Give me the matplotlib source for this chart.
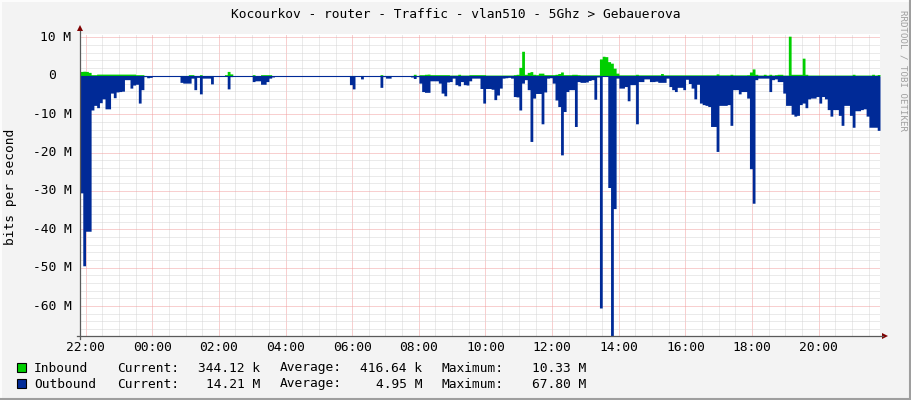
import numpy as np
import matplotlib
matplotlib.use("Agg")
import matplotlib.pyplot as plt
from matplotlib import transforms
from matplotlib.patches import Rectangle, Polygon
from matplotlib.lines import Line2D

# ---------------- data ----------------
title = "Kocourkov - router - Traffic - vlan510 - 5Ghz > Gebauerova"
y_axis_label = "bits per second"
watermark = "RRDTOOL / TOBI OETIKER"

x_tick_hours = [0, 2, 4, 6, 8, 10, 12, 14, 16, 18, 20, 22]   # hours after 22:00
x_tick_labels = ["22:00", "00:00", "02:00", "04:00", "06:00", "08:00",
                 "10:00", "12:00", "14:00", "16:00", "18:00", "20:00"]
y_tick_values = [10, 0, -10, -20, -30, -40, -50, -60]
y_tick_labels = ["10 M", "0", "-10 M", "-20 M", "-30 M", "-40 M", "-50 M", "-60 M"]

start_hour = -0.165          # first sample (21:50), hours relative to 22:00
step_hours = 5.0 / 60.0      # 5-minute samples

# Inbound traffic, Mbit/s, one row per hour (12 five-minute samples)
inbound = [
    1.15, 1.2, 1.15, 0.9, 0.3, 0.3, 0.45, 0.45, 0.45, 0.45, 0.45, 0.45,
    0.45, 0.45, 0.45, 0.45, 0.45, 0.45, 0.45, 0.45, 0.3, 0.3, 0.3, 0.1,
    0.05, 0.05, 0.05, 0.05, 0.05, 0.05, 0.05, 0.05, 0.05, 0.05, 0.05, 0.05,
    0.1, 0.1, 0.1, 0.3, 0.3, 0.1, 0.1, 0.3, 0.1, 0.1, 0.1, 0.1,
    0.05, 0.05, 0.05, 0.05, 0.3, 1.15, 0.5, 0.05, 0.05, 0.05, 0.05, 0.05,
    0.05, 0.05, 0.3, 0.1, 0.1, 0.3, 0.3, 0.3, 0.3, 0.05, 0.05, 0.05,
    0.05, 0.05, 0.05, 0.05, 0.05, 0.05, 0.05, 0.05, 0.05, 0.05, 0.05, 0.05,
    0.05, 0.05, 0.05, 0.05, 0.05, 0.05, 0.05, 0.05, 0.05, 0.05, 0.05, 0.05,
    0.05, 0.1, 0.1, 0.05, 0.05, 0.1, 0.05, 0.05, 0.05, 0.05, 0.05, 0.05,
    0.3, 0.1, 0.1, 0.1, 0.05, 0.05, 0.05, 0.05, 0.05, 0.05, 0.05, 0.1,
    0.4, 0.1, 0.3, 0.3, 0.4, 0.45, 0.3, 0.3, 0.3, 0.3, 0.3, 0.3,
    0.3, 0.2, 0.2, 0.2, 0.4, 0.2, 0.2, 0.2, 0.3, 0.3, 0.3, 0.3,
    0.3, 0.3, 0.2, 0.2, 0.2, 0.2, 0.2, 0.2, 0.2, 0.2, 0.2, 0.2,
    0.3, 0.4, 2.2, 6.4, 0.4, 0.9, 1.1, 0.4, 0.3, 0.7, 0.7, 0.3,
    0.3, 0.3, 0.3, 0.4, 0.6, 1.0, 0.3, 0.3, 0.3, 0.4, 0.4, 0.3,
    0.25, 0.25, 0.25, 0.25, 0.25, 0.25, 0.25, 4.4, 5.1, 5.0, 3.7, 3.3,
    2.0, 0.7, 0.25, 0.25, 0.25, 0.25, 0.25, 0.25, 0.4, 0.25, 0.25, 0.25,
    0.25, 0.25, 0.25, 0.25, 0.25, 0.6, 0.25, 0.25, 0.25, 0.25, 0.25, 0.25,
    0.25, 0.25, 0.25, 0.25, 0.25, 0.25, 0.25, 0.25, 0.25, 0.25, 0.25, 0.25,
    0.25, 0.5, 0.25, 0.25, 0.25, 0.25, 0.4, 0.25, 0.25, 0.25, 0.25, 0.25,
    0.3, 1.0, 1.8, 0.4, 0.2, 0.2, 0.4, 0.2, 0.4, 0.2, 0.3, 0.4,
    0.4, 0.2, 0.2, 10.33, 0.4, 0.4, 0.4, 0.4, 4.6, 0.4, 0.2, 0.2,
    0.2, 0.2, 0.2, 0.2, 0.2, 0.2, 0.2, 0.2, 0.2, 0.2, 0.2, 0.2,
    0.2, 0.2, 0.4, 0.2, 0.2, 0.2, 0.2, 0.2, 0.2, 0.4, 0.2, 0.344,
]

# Outbound traffic, Mbit/s (drawn below zero)
outbound = [
    30.5, 49.5, 40.5, 40.5, 8.9, 7.7, 8.3, 7.0, 6.0, 8.6, 8.6, 4.5,
    5.7, 4.2, 4.1, 4.0, 1.0, 1.0, 3.2, 2.4, 2.2, 7.1, 3.6, 0.2,
    0.5, 0.4, 0, 0, 0, 0, 0, 0, 0, 0, 0, 0,
    1.7, 1.9, 1.9, 1.9, 0.6, 3.6, 0.4, 4.7, 0.6, 0.6, 0.6, 2.1,
    0, 0, 0, 0, 0, 3.4, 0.2, 0, 0, 0, 0, 0,
    0, 0, 1.5, 1.3, 1.3, 2.2, 2.2, 1.5, 0.6, 0.3, 0, 0,
    0, 0, 0, 0, 0, 0, 0, 0, 0, 0, 0, 0,
    0, 0, 0, 0, 0, 0, 0, 0, 0, 0, 0, 0,
    0, 2.3, 3.4, 0, 0, 0.8, 0, 0, 0, 0, 0, 0,
    3.0, 0.2, 0.6, 0.6, 0, 0, 0, 0, 0, 0, 0, 0.3,
    0.7, 0.2, 1.9, 4.1, 4.3, 4.3, 1.3, 1.3, 1.3, 1.9, 4.5, 5.2,
    1.6, 1.5, 0.6, 2.3, 2.6, 1.5, 2.3, 2.4, 1.3, 0.6, 0.6, 0.6,
    3.3, 7.1, 3.3, 3.3, 3.5, 6.2, 5.0, 3.2, 0.6, 0.5, 0.4, 0.6,
    5.4, 5.5, 8.9, 1.9, 1.0, 3.6, 17.1, 5.8, 4.6, 4.6, 12.5, 4.2,
    0.6, 0.5, 1.9, 6.3, 8.0, 20.6, 9.3, 4.1, 3.6, 3.6, 13.2, 1.5,
    1.7, 1.7, 1.6, 1.2, 1.0, 6.1, 0.3, 60.5, 0, 0, 29.1, 67.8,
    34.6, 0.6, 3.2, 3.2, 2.8, 6.5, 2.3, 2.3, 12.5, 1.5, 1.5, 0.8,
    0.8, 1.5, 1.5, 1.4, 1.7, 1.7, 1.7, 0.6, 2.8, 3.6, 4.1, 3.0,
    3.0, 3.6, 0.9, 2.0, 3.2, 6.0, 2.2, 7.1, 7.5, 7.7, 8.0, 13.2,
    13.2, 19.7, 7.7, 7.7, 7.7, 7.5, 12.9, 3.6, 3.6, 4.7, 4.1, 4.1,
    5.8, 24.2, 33.2, 1.0, 0.6, 0.6, 0.6, 0.6, 4.1, 1.0, 0.8, 1.5,
    1.5, 4.5, 7.7, 7.7, 10.0, 10.5, 10.3, 7.5, 7.1, 8.3, 6.0, 5.8,
    5.8, 5.4, 7.1, 5.4, 6.0, 8.8, 10.5, 8.8, 8.8, 10.3, 12.9, 7.7,
    7.7, 10.3, 13.4, 9.1, 9.1, 8.8, 8.6, 10.5, 13.4, 13.4, 13.4, 14.21,
]

legend_names = ["Inbound", "Outbound"]
legend_current = ["344.12 k", "14.21 M"]
legend_average = ["416.64 k", "4.95 M"]
legend_maximum = ["10.33 M", "67.80 M"]

# ---------------- style ----------------
W, H = 911, 400
DPI = 100
BG = "#F3F3F3"
IN_COLOR = "#00CF00"
OUT_COLOR = "#002A97"
MINOR_GRID = "#D6D6D6"
MAJOR_GRID = "#F2A0A0"
FONT = "DejaVu Sans Mono"
FS = 9.3

plt.rcParams["font.family"] = [FONT, "DejaVu Sans"]

fig = plt.figure(figsize=(W / DPI, H / DPI), dpi=DPI, facecolor=BG)

# plot area in pixels
PL, PR, PT, PB = 80, 880, 34, 336
ax = fig.add_axes([PL / W, 1 - PB / H, (PR - PL) / W, (PB - PT) / H])
ax.set_facecolor("white")

n = len(outbound)
t_edges = start_hour + np.arange(n + 1) * step_hours
inb = np.append(np.array(inbound), inbound[-1])
outb = -np.append(np.array(outbound), outbound[-1])

ax.set_xlim(start_hour, start_hour + 24)
ax.set_ylim(-67.8, 10.9)

# grid
for hx in np.arange(0, 24, 0.5):
    major = (hx % 2 == 0)
    ax.axvline(hx, color=MAJOR_GRID if major else MINOR_GRID, lw=0.72,
               ls=(0, (1, 1)), zorder=1)
for yv in np.arange(-66, 11, 2):
    major = (yv % 10 == 0)
    ax.axhline(yv, color=MAJOR_GRID if major else MINOR_GRID, lw=0.72,
               ls=(0, (1, 1)), zorder=1)

ax.fill_between(t_edges, 0, outb, step="post", color=OUT_COLOR, lw=0, zorder=2)
ax.fill_between(t_edges, 0, inb, step="post", color=IN_COLOR, lw=0, zorder=2)
ax.axhline(0, color=OUT_COLOR, lw=0.8, zorder=3)

ax.set_xticks([])
ax.set_yticks([])
for s in ax.spines.values():
    s.set_visible(False)

# x tick labels
for h, lab in zip(x_tick_hours, x_tick_labels):
    ax.text(h, -67.8, lab, transform=ax.transData, ha="center", va="top",
            fontsize=FS, color="black",
            transform_rotates_text=False).set_transform(
        transforms.offset_copy(ax.transData, fig=fig, x=0, y=-5 * 72 / DPI, units="points"))

# y tick labels (right-aligned, "0" sits before the unit column)
for v, lab in zip(y_tick_values, y_tick_labels):
    xoff = -8.5 if lab.endswith("M") else -24.5
    tr = transforms.offset_copy(ax.get_yaxis_transform(), fig=fig,
                                x=xoff * 72 / DPI, y=0, units="points")
    ax.text(0, v, lab, transform=tr, ha="right", va="center", fontsize=FS,
            color="black")

# overlay for decorations in pixel coordinates
ov = fig.add_axes([0, 0, 1, 1], facecolor="none")
ov.set_xlim(0, W)
ov.set_ylim(H, 0)
ov.axis("off")

# frame
ov.add_line(Line2D([0.5, W - 0.5], [0.5, 0.5], color="#FCFCFC", lw=1.5))
ov.add_line(Line2D([0.5, 0.5], [0.5, H - 0.5], color="#FCFCFC", lw=1.5))
ov.add_line(Line2D([W - 1, W - 1], [0, H], color="#9E9E9E", lw=1.5))
ov.add_line(Line2D([0, W], [H - 1, H - 1], color="#9E9E9E", lw=1.5))

# axes lines and arrows
AX_COLOR = "#5A5A5A"
ARROW = "#7F0000"
ov.add_line(Line2D([PL, PL], [PB + 3, PT - 3], color=AX_COLOR, lw=0.9))
ov.add_line(Line2D([PL - 3, PR + 3], [PB, PB], color=AX_COLOR, lw=0.9))
ov.add_patch(Polygon([[PL - 3, PT - 3], [PL + 3, PT - 3], [PL, PT - 9]],
                     closed=True, color=ARROW, lw=0))
ov.add_patch(Polygon([[PR + 2, PB - 3], [PR + 2, PB + 3], [PR + 8, PB]],
                     closed=True, color=ARROW, lw=0))

# titles
ov.text(W / 2 + 0.5, 14, title, ha="center", va="center", fontsize=FS, color="black")
ov.text(11, (PT + PB) / 2 + 2, y_axis_label, ha="center", va="center",
        rotation=90, fontsize=FS, color="black")
ov.text(903, 70, watermark, ha="center", va="center", rotation=-90,
        fontsize=6.6, color="#A0A0A0")

# legend
rows_y = [368, 384]
colors = [IN_COLOR, OUT_COLOR]
for r in range(2):
    y = rows_y[r]
    ov.add_patch(Rectangle((17, y - 5), 9, 9, facecolor=colors[r],
                           edgecolor="black", lw=0.8))
    ov.text(34, y, legend_names[r], ha="left", va="center", fontsize=FS)
    ov.text(117, y, "Current:", ha="left", va="center", fontsize=FS)
    ov.text(260, y, legend_current[r], ha="right", va="center", fontsize=FS)
    ov.text(280, y, "Average:", ha="left", va="center", fontsize=FS)
    ov.text(422, y, legend_average[r], ha="right", va="center", fontsize=FS)
    ov.text(441, y, "Maximum:", ha="left", va="center", fontsize=FS)
    ov.text(586, y, legend_maximum[r], ha="right", va="center", fontsize=FS)

fig.savefig("out.png", dpi=DPI, facecolor=BG)
